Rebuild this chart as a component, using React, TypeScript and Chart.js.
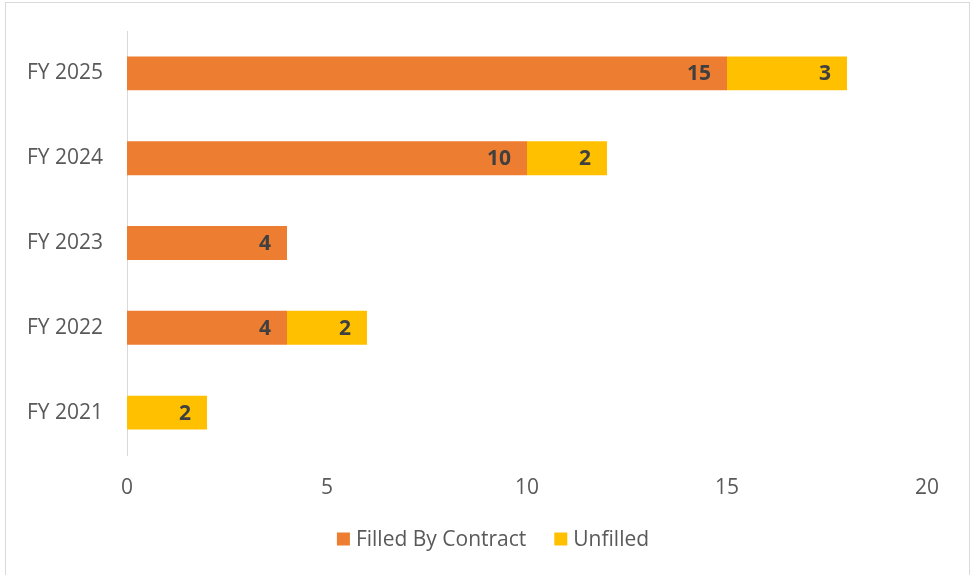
import React, { useEffect, useRef } from "react";
import { Chart, registerables } from "chart.js";

Chart.register(...registerables);

const categories = ["FY 2025", "FY 2024", "FY 2023", "FY 2022", "FY 2021"];
const filledByContract = [15, 10, 4, 4, 0];
const unfilled = [3, 2, 0, 2, 2];
const xTicks = [0, 5, 10, 15, 20];

const FONT = "'Open Sans', sans-serif";
const FS = 21;

const borderPlugin = {
  id: "outerBorder",
  beforeDraw(chart: any) {
    const ctx = chart.ctx;
    ctx.save();
    ctx.strokeStyle = "#D9D9D9";
    ctx.lineWidth = 1;
    ctx.strokeRect(5.5, 2.5, 964, 620);
    ctx.restore();
  },
};

const labelPlugin = {
  id: "segLabels",
  afterDatasetsDraw(chart: any) {
    const ctx = chart.ctx;
    ctx.save();
    ctx.font = `bold ${FS}px ${FONT}`;
    ctx.fillStyle = "#404040";
    ctx.textAlign = "right";
    ctx.textBaseline = "middle";
    chart.data.datasets.forEach((ds: any, di: number) => {
      const meta = chart.getDatasetMeta(di);
      meta.data.forEach((el: any, i: number) => {
        const v = ds.data[i];
        if (!v) return;
        ctx.fillText(String(v), el.x - 16, el.y + 1);
      });
    });
    ctx.restore();
  },
};

const legendPlugin = {
  id: "customLegend",
  afterDraw(chart: any) {
    const ctx = chart.ctx;
    ctx.save();
    ctx.font = `${FS}px ${FONT}`;
    ctx.textBaseline = "middle";
    ctx.textAlign = "left";
    const box = 13;
    const gap = 6;
    const between = 28;
    const items = chart.data.datasets.map((ds: any) => ({
      text: ds.label,
      color: ds.backgroundColor,
      w: ctx.measureText(ds.label).width,
    }));
    const total =
      items.reduce((s: number, it: any) => s + box + gap + it.w, 0) +
      between * (items.length - 1);
    let x = 493 - total / 2;
    const y = 539;
    items.forEach((it: any) => {
      ctx.fillStyle = it.color;
      ctx.fillRect(x, y - box / 2, box, box);
      ctx.fillStyle = "#595959";
      ctx.fillText(it.text, x + box + gap, y + 1);
      x += box + gap + it.w + between;
    });
    ctx.restore();
  },
};

export default function App() {
  const ref = useRef<HTMLCanvasElement | null>(null);
  useEffect(() => {
    if (!ref.current) return;
    const chart = new Chart(ref.current, {
      type: "bar",
      data: {
        labels: categories,
        datasets: [
          {
            label: "Filled By Contract",
            data: filledByContract,
            backgroundColor: "#ED7D31",
            borderWidth: 0,
            barPercentage: 0.4,
            categoryPercentage: 1,
          },
          {
            label: "Unfilled",
            data: unfilled,
            backgroundColor: "#FFC000",
            borderWidth: 0,
            barPercentage: 0.4,
            categoryPercentage: 1,
          },
        ],
      },
      options: {
        indexAxis: "y",
        animation: false,
        responsive: false,
        maintainAspectRatio: false,
        layout: { padding: { top: 31, right: 46, left: 0, bottom: 80 } },
        scales: {
          x: {
            stacked: true,
            min: 0,
            max: 20,
            afterBuildTicks(scale: any) {
              scale.ticks = xTicks.map((v) => ({ value: v }));
            },
            grid: { display: false, drawTicks: false },
            border: { display: false },
            ticks: {
              padding: 20,
              color: "#595959",
              font: { family: FONT, size: FS },
            },
            afterFit(scale: any) {
              scale.height = 40;
            },
          },
          y: {
            stacked: true,
            grid: { display: false, drawTicks: false },
            border: { display: true, color: "#D9D9D9", width: 1 },
            ticks: {
              padding: 24,
              color: "#595959",
              font: { family: FONT, size: FS },
            },
            afterFit(scale: any) {
              scale.width = 127;
              scale.paddingTop = 0;
              scale.paddingBottom = 0;
            },
          },
        },
        plugins: {
          legend: { display: false },
          tooltip: { enabled: false },
        },
      },
      plugins: [borderPlugin, labelPlugin, legendPlugin],
    });
    return () => chart.destroy();
  }, []);
  return (
    <canvas
      ref={ref}
      width={973}
      height={575}
      style={{ position: "fixed", left: 0, top: 0, width: 973, height: 575 }}
    />
  );
}
